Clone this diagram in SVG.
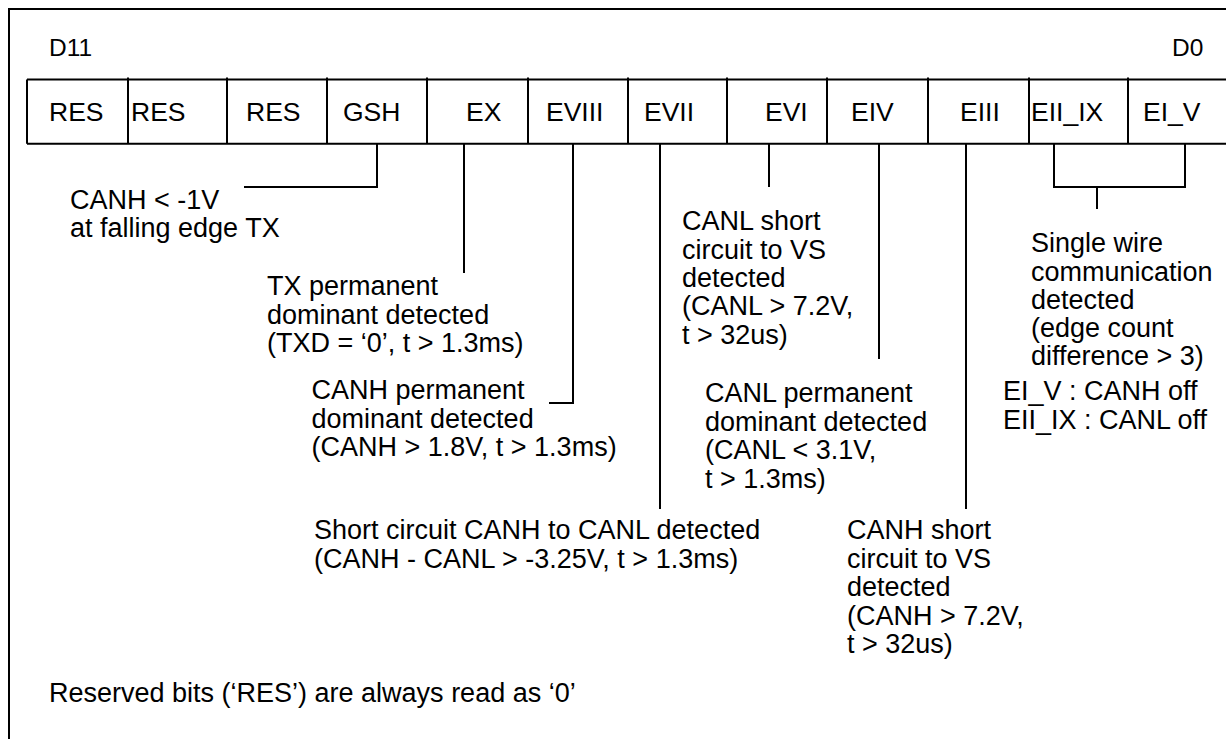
<svg xmlns="http://www.w3.org/2000/svg" width="1226" height="739" viewBox="0 0 1226 739">
<style>
text{font-family:"Liberation Sans",Arial,sans-serif;fill:#000}
.cell{font-size:26.5px}
.ann{font-size:27px}
.bit{font-size:24.5px}
.ln{fill:none;stroke:#000;stroke-width:2}
</style>
<rect x="0" y="0" width="1226" height="739" fill="#fff"/>
<g id="frame">
<path class="ln" d="M9,739 V9 H1226"/>
</g>
<g id="bit-labels">
<text class="bit" x="49" y="56">D11</text>
<text class="bit" x="1172" y="56">D0</text>
</g>
<g id="register">
<path class="ln" d="M27,79.5 H1226 M27,143.8 H1226 M27,79.5 V143.8"/>
<path class="ln" d="M128,77.5 V143.8 M227,77.5 V143.8 M327,77.5 V143.8 M427,77.5 V143.8 M528,77.5 V143.8 M628,77.5 V143.8 M727,77.5 V143.8 M827,77.5 V143.8 M928,77.5 V143.8 M1029,77.5 V143.8 M1128,77.5 V143.8"/>
<g id="cell-res11"><text class="cell" x="49" y="121">RES</text></g>
<g id="cell-res10"><text class="cell" x="131" y="121">RES</text></g>
<g id="cell-res9"><text class="cell" x="246" y="121">RES</text></g>
<g id="cell-gsh"><text class="cell" x="343" y="121">GSH</text></g>
<g id="cell-ex"><text class="cell" x="466" y="121">EX</text></g>
<g id="cell-eviii"><text class="cell" x="546" y="121">EVIII</text></g>
<g id="cell-evii"><text class="cell" x="644" y="121">EVII</text></g>
<g id="cell-evi"><text class="cell" x="765" y="121">EVI</text></g>
<g id="cell-eiv"><text class="cell" x="851" y="121">EIV</text></g>
<g id="cell-eiii"><text class="cell" x="960" y="121">EIII</text></g>
<g id="cell-eii-ix"><text class="cell" x="1031" y="121">EII_IX</text></g>
<g id="cell-ei-v"><text class="cell" x="1143" y="121">EI_V</text></g>
</g>
<g id="connectors">
<path class="ln" d="M377,143.8 V187 H244"/>
<path class="ln" d="M464,143.8 V273"/>
<path class="ln" d="M573,143.8 V403 H549"/>
<path class="ln" d="M660,143.8 V509"/>
<path class="ln" d="M769,143.8 V187"/>
<path class="ln" d="M879,143.8 V359"/>
<path class="ln" d="M966,143.8 V509"/>
<path class="ln" d="M1054,143.8 V187 H1185 V143.8 M1097,187 V209"/>
</g>
<g id="note-gsh">
<text class="ann" x="70" y="208.5">CANH &lt; -1V</text>
<text class="ann" x="70" y="237">at falling edge TX</text>
</g>
<g id="note-ex">
<text class="ann" x="267" y="295">TX permanent</text>
<text class="ann" x="267" y="323.5">dominant detected</text>
<text class="ann" x="267" y="352">(TXD = ‘0’, t &gt; 1.3ms)</text>
</g>
<g id="note-eviii">
<text class="ann" x="311.5" y="399">CANH permanent</text>
<text class="ann" x="311.5" y="427.5">dominant detected</text>
<text class="ann" x="311.5" y="456">(CANH &gt; 1.8V, t &gt; 1.3ms)</text>
</g>
<g id="note-evii">
<text class="ann" x="314" y="539">Short circuit CANH to CANL detected</text>
<text class="ann" x="314" y="567.5">(CANH - CANL &gt; -3.25V, t &gt; 1.3ms)</text>
</g>
<g id="note-evi">
<text class="ann" x="682" y="230">CANL short</text>
<text class="ann" x="682" y="258.5">circuit to VS</text>
<text class="ann" x="682" y="287">detected</text>
<text class="ann" x="682" y="315">(CANL &gt; 7.2V,</text>
<text class="ann" x="682" y="343.5">t &gt; 32us)</text>
</g>
<g id="note-eiv">
<text class="ann" x="705" y="402">CANL permanent</text>
<text class="ann" x="705" y="430.5">dominant detected</text>
<text class="ann" x="705" y="459">(CANL &lt; 3.1V,</text>
<text class="ann" x="705" y="487.5">t &gt; 1.3ms)</text>
</g>
<g id="note-eiii">
<text class="ann" x="847" y="539">CANH short</text>
<text class="ann" x="847" y="567.5">circuit to VS</text>
<text class="ann" x="847" y="596">detected</text>
<text class="ann" x="847" y="624.5">(CANH &gt; 7.2V,</text>
<text class="ann" x="847" y="653">t &gt; 32us)</text>
</g>
<g id="note-single-wire">
<text class="ann" x="1031" y="252">Single wire</text>
<text class="ann" x="1031" y="280.5">communication</text>
<text class="ann" x="1031" y="308.5">detected</text>
<text class="ann" x="1031" y="337">(edge count</text>
<text class="ann" x="1031" y="365">difference &gt; 3)</text>
<text class="ann" x="1003" y="400">EI_V : CANH off</text>
<text class="ann" x="1003" y="428.5">EII_IX : CANL off</text>
</g>
<g id="footnote">
<text class="ann" x="49" y="702">Reserved bits (‘RES’) are always read as ‘0’</text>
</g>
</svg>
